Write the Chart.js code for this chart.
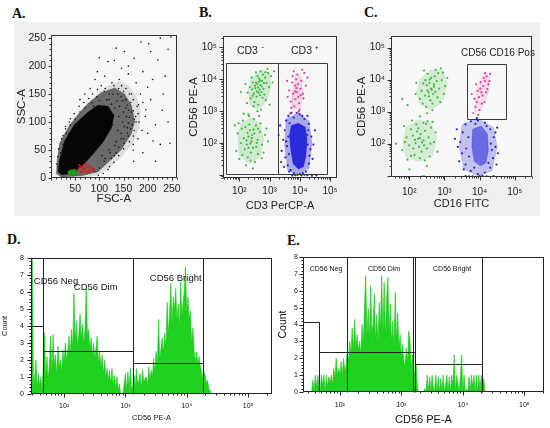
<!DOCTYPE html>
<html><head><meta charset="utf-8">
<script src="https://cdn.jsdelivr.net/npm/chart.js@4.4.1/dist/chart.umd.min.js"></script>
<style>
html,body{margin:0;padding:0;background:#fff;}
body{width:550px;height:428px;position:relative;overflow:hidden;}
.band{position:absolute;left:14px;top:22px;width:526px;height:194px;background:#efefef;}
canvas{position:absolute;}
.lab{position:absolute;font-family:'Liberation Serif','Times New Roman',serif;font-weight:bold;font-size:14px;line-height:14px;color:#111;}
</style></head><body>
<div class="band"></div>
<div class="lab" style="left:12px;top:7px">A.</div>
<div class="lab" style="left:199px;top:6px">B.</div>
<div class="lab" style="left:364px;top:6px">C.</div>
<div class="lab" style="left:7px;top:233px">D.</div>
<div class="lab" style="left:287px;top:234px">E.</div>
<canvas id="cA" width="172" height="188" style="left:14px;top:24px"></canvas>
<canvas id="cB" width="172" height="188" style="left:188px;top:24px"></canvas>
<canvas id="cC" width="186" height="188" style="left:354px;top:24px"></canvas>
<canvas id="cD" width="280" height="198" style="left:0px;top:230px"></canvas>
<canvas id="cE" width="272" height="198" style="left:278px;top:230px"></canvas>
<script>
// ---------------- Panel A : FSC-A vs SSC-A (linear, 0-260) ----------------
const aOuter = [[10,5],[12,35],[20,65],[40,98],[62,122],[90,145],[115,163],[140,172],[160,165],[175,148],[185,120],[182,90],[168,62],[145,38],[120,18],[95,5],[60,1],[22,0]];
const aMid = [[11.5,8],[13.5,33.5],[18,62],[35.6,90],[56,113],[77,133],[104,152.5],[132,161],[152,150],[166,130],[173,101.5],[166,79],[145,50.5],[118,28],[97,11],[63,4],[22,2]];
const aCore = [[15,11],[18,33],[28.6,67],[49,96],[77,118],[97,130],[118,128],[130,112],[125,90],[108,65],[84,40],[63,20],[42,8],[22,6]];
const aEvents = [[100,215],[118,208],[135,232],[152,226],[160,186],[172,214],[186,243],[202,240],[226,250],[248,252],[242,230],[190,190],[176,170],[210,176],[232,150],[206,140],[230,121],[242,100],[216,95],[200,80],[226,60],[190,45],[216,30],[170,60],[182,100],[196,122],[166,150],[141,176],[126,170],[111,182],[91,176],[81,160],[160,200],[146,196],[200,162],[181,131],[161,121],[151,62],[131,40],[121,20],[171,30],[211,66],[246,62],[236,182],[221,211],[206,226],[131,210],[96,190],[70,150],[60,140],[40,106],[30,92],[25,76],[140,160],[150,155],[155,140],[165,135],[170,120],[175,110],[168,95],[172,85],[160,75],[150,70],[140,55],[135,45],[125,35],[110,30],[100,18],[90,12],[120,150],[110,155],[95,145],[85,135],[70,125],[60,118],[50,105],[40,95],[32,80],[25,60],[20,45],[18,30],[15,20],[130,165],[145,145],[155,125],[162,108],[158,90],[145,80],[135,65],[120,50],[105,40],[115,140],[100,138],[88,128],[75,110],[60,100],[45,80],[35,60],[28,40],[22,25]];
const aEventsInner = [[120,140],[128,150],[136,138],[142,128],[150,118],[156,110],[148,100],[160,98],[165,88],[158,80],[152,92],[140,110],[132,125],[125,132],[138,150],[146,165],[155,160],[162,150],[170,140],[178,128],[180,115],[176,100],[170,75],[162,65],[150,52],[140,40],[130,28],[118,15],[108,8],[98,5],[112,160],[104,165],[96,158],[86,150],[78,142],[68,135],[58,128],[48,115],[38,100],[30,88],[22,70],[16,52],[14,38],[12,25],[148,138],[158,130],[166,118],[172,105],[128,95],[138,85],[145,70],[132,58],[122,45],[112,35],[185,150],[190,135],[195,110],[188,85],[180,70],[170,50]];
const aRed = [[55,14],[58,18],[60,12],[62,20],[65,15],[67,22],[70,17],[72,13],[74,19],[76,24],[78,15],[80,20],[82,12],[84,18],[86,14],[63,10],[69,11],[75,10],[88,16],[59,23],[71,25],[66,18],[79,11]];
const aGreen = [[38,9],[40,11],[42,8],[44,10],[46,12],[48,9],[50,11],[41,13],[45,7],[47,14],[39,7],[43,12],[49,13],[51,8],[37,11]];
const aXLabels = [50,100,150,200,250];
const aYLabels = [0,50,100,150,200,250];

// ---------------- Panel B : CD3 PerCP-A vs CD56 PE-A (log10 decades) ----------------
const bGreenHi = [[2.55,3.9],[2.62,3.75],[2.70,3.82],[2.58,3.62],[2.75,3.95],[2.48,3.55],[2.66,4.02],[2.80,3.70],[2.52,3.80],[2.68,3.50],[2.60,4.10],[2.85,4.05],[2.42,3.68],[2.73,3.60],[2.90,3.88],[2.57,3.45],[2.64,3.92],[2.78,4.15],[2.45,3.90],[2.95,4.20],[2.38,3.40],[2.50,3.28],[2.62,3.20],[2.83,3.52],[2.70,4.25],[2.98,3.75],[2.35,3.75],[2.28,3.58],[3.05,4.10],[2.55,4.22],[2.88,3.35],[2.47,3.15],[2.72,3.05],[2.40,4.05],[3.10,3.90],[2.25,3.25],[2.60,3.00],[2.93,4.32],[2.67,3.68],[2.59,3.85],[2.74,3.78],[2.63,3.58],[2.69,3.96],[2.53,3.72],[2.81,3.88],[2.20,3.85],[3.15,4.25],[2.77,3.42],[2.44,3.48],[2.86,4.22],[2.05,3.6],[2.3,2.9],[3.0,3.2]];
const bGreenLo = [[2.30,2.20],[2.40,2.05],[2.25,1.95],[2.50,2.30],[2.35,2.40],[2.15,2.15],[2.45,1.85],[2.60,2.10],[2.20,2.50],[2.55,2.55],[2.05,2.00],[2.38,1.70],[2.68,2.35],[2.12,2.70],[2.28,1.55],[2.75,1.95],[1.95,2.30],[2.48,2.75],[2.62,1.65],[2.18,1.80],[2.85,2.25],[1.90,1.75],[2.32,2.85],[2.52,1.40],[2.08,2.45],[2.70,2.62],[2.42,2.25],[2.27,2.32],[2.36,1.98],[2.58,2.00],[2.00,1.50],[2.80,1.70],[2.22,1.30],[2.65,2.85],[1.85,2.55],[2.90,2.45],[2.45,1.20],[2.14,2.92],[2.33,2.58],[2.47,2.42],[2.56,1.88],[2.24,2.08],[2.41,2.15],[2.30,1.85],[1.98,2.62],[2.74,1.52],[2.10,1.62],[2.95,2.05],[2.62,2.45],[2.37,1.45]];
const bPink = [[3.90,3.60],[3.85,3.80],[3.95,3.45],[4.02,3.70],[3.78,3.55],[3.88,4.00],[4.05,3.95],[3.70,3.30],[3.98,3.25],[3.82,3.15],[4.10,3.55],[3.92,4.15],[3.75,3.90],[4.15,4.20],[3.65,3.65],[3.86,3.38],[4.00,3.05],[3.80,4.25],[4.20,3.80],[3.94,3.85],[3.72,3.10],[4.08,4.30],[3.60,3.45],[3.97,3.00],[3.84,3.62],[3.89,3.72],[4.12,3.40],[3.76,4.10],[3.58,3.95],[4.25,4.05],[3.93,2.95],[3.68,2.92],[4.03,3.50]];
const bBlue = [[3.55,2.70],[3.62,2.85],[3.80,2.80],[4.00,2.90],[4.15,2.75],[4.30,2.60],[3.50,2.40],[3.45,2.10],[3.58,1.90],[3.52,1.55],[3.60,1.30],[3.65,1.10],[3.80,1.05],[4.00,1.02],[4.20,1.10],[4.30,1.35],[4.35,1.80],[4.38,2.20],[4.28,2.40],[3.40,1.75],[3.35,2.55],[4.45,1.95],[4.42,1.50],[3.48,1.25],[3.90,2.95],[3.72,2.95],[4.08,2.85],[3.66,2.62],[4.25,2.85],[3.30,2.25],[3.38,1.40],[4.50,2.40],[3.62,2.20],[3.64,1.65],[4.26,1.95],[4.25,2.25],[3.70,1.15],[4.10,1.05],[4.32,1.60],[3.55,2.05],[3.92,1.00],[4.05,0.98],[3.85,0.99],[4.15,1.00],[4.25,0.99],[3.75,0.98],[4.40,0.97],[4.55,0.98]];
const bGreenHiHalo = [[2.35,3.2],[2.6,3.05],[2.9,3.3],[3.05,3.8],[3.0,4.2],[2.75,4.3],[2.45,4.1],[2.3,3.7]];
const bGreenLoHalo = [[2.0,1.6],[2.35,1.35],[2.7,1.6],[2.8,2.1],[2.7,2.6],[2.4,2.8],[2.05,2.6],[1.95,2.1]];
const bPinkHalo = [[3.75,3.1],[4.0,3.05],[4.1,3.5],[4.05,4.1],[3.85,4.15],[3.75,3.6]];
const bBlueHalo = [[3.55,2.75],[3.95,2.95],[4.3,2.7],[4.4,2.0],[4.3,1.2],[3.95,1.0],[3.6,1.15],[3.5,1.9]];
const bBlueCore = [[3.72,2.55],[3.95,2.62],[4.18,2.50],[4.24,2.10],[4.20,1.60],[4.12,1.25],[3.95,1.18],[3.78,1.35],[3.70,1.80],[3.66,2.25]];
const bGates = [[1.55,1.015,3.27,4.51],[3.27,1.015,4.89,4.51]];

// ---------------- Panel C : CD16 FITC vs CD56 PE-A (log10 decades) ----------------
const cGreenHi = [[2.62,3.72],[2.70,3.85],[2.55,3.60],[2.78,3.95],[2.50,3.82],[2.68,3.55],[2.58,4.00],[2.85,3.72],[2.45,3.50],[2.72,4.10],[2.40,3.88],[2.92,3.98],[2.60,3.35],[2.80,3.45],[2.35,3.65],[2.96,4.22],[2.52,4.18],[2.88,3.30],[2.30,3.40],[2.66,3.25],[2.48,3.15],[3.02,3.80],[2.20,3.90],[2.75,4.30],[2.42,4.28],[3.08,4.05],[2.57,3.90],[2.64,3.68],[2.74,3.62],[2.52,3.66],[2.82,4.20],[2.38,3.25],[2.18,3.55],[2.98,3.55],[2.66,3.05],[2.46,3.98],[2.90,4.35],[2.56,3.48],[2.70,3.78],[2.62,4.06],[1.95,3.2],[2.3,2.85],[2.5,2.95],[1.80,3.4]];
const cGreenLo = [[2.25,2.15],[2.32,2.30],[2.18,2.02],[2.40,2.10],[2.10,2.25],[2.28,1.90],[2.45,2.40],[2.05,2.45],[2.35,1.75],[2.55,2.20],[2.15,1.65],[2.00,1.95],[2.50,1.85],[2.20,2.60],[2.62,2.50],[1.92,2.20],[2.40,2.65],[2.70,2.05],[1.85,2.55],[2.30,1.55],[2.58,1.60],[2.08,2.72],[1.80,1.80],[2.75,2.35],[2.48,2.62],[2.22,2.38],[2.36,2.04],[2.12,1.85],[2.42,1.95],[2.26,2.48],[2.60,2.00],[1.95,1.50],[2.80,1.75],[2.16,2.12],[2.30,2.18],[2.05,1.62],[2.52,2.70],[2.44,1.48],[1.88,2.05],[2.66,2.68],[1.62,2.0],[2.0,1.2],[2.5,1.3],[2.38,0.98],[2.42,0.98]];
const cPink = [[4.05,3.60],[4.10,3.80],[3.98,3.45],[4.15,3.95],[3.92,3.30],[4.20,4.10],[4.02,3.72],[3.88,3.15],[4.25,3.85],[4.08,3.50],[3.95,3.65],[4.18,3.60],[3.85,3.40],[4.30,4.18],[4.12,4.05],[3.82,2.95],[4.00,3.05],[4.22,3.70],[3.90,3.85],[4.28,3.95],[4.06,3.25],[3.78,3.55],[4.14,3.30],[3.96,2.90],[4.16,4.20],[4.03,3.92]];
const cBlue = [[3.60,2.60],[3.75,2.70],[3.95,2.72],[4.15,2.65],[4.30,2.45],[4.40,2.20],[4.45,1.90],[4.38,1.55],[4.30,1.25],[4.15,1.10],[3.95,1.05],[3.75,1.15],[3.60,1.35],[3.50,1.70],[3.45,2.05],[3.52,2.35],[3.38,1.90],[3.35,2.45],[4.50,2.50],[4.52,1.70],[3.68,2.20],[3.70,1.60],[4.32,2.00],[4.35,1.80],[3.88,2.62],[4.08,1.00],[4.25,1.40],[3.62,1.85],[4.45,2.35],[3.55,1.20],[3.85,1.25],[4.20,2.55],[3.92,2.80],[4.00,0.99],[3.70,0.98],[4.20,0.98],[4.40,0.99],[3.80,0.98],[3.60,0.99],[3.30,2.15],[3.42,1.45],[4.48,1.35]];
const cGreenHiHalo = [[2.3,3.25],[2.6,3.05],[2.95,3.3],[3.08,3.85],[2.95,4.3],[2.6,4.3],[2.3,4.0],[2.2,3.6]];
const cGreenLoHalo = [[1.9,1.6],[2.25,1.45],[2.65,1.6],[2.78,2.15],[2.62,2.65],[2.25,2.75],[1.9,2.5],[1.82,2.0]];
const cPinkHalo = [[3.85,3.0],[4.05,3.05],[4.25,3.6],[4.3,4.15],[4.12,4.2],[3.9,3.7]];
const cBlueHalo = [[3.5,2.6],[3.95,2.8],[4.4,2.5],[4.5,1.9],[4.35,1.15],[3.95,1.0],[3.55,1.2],[3.42,1.9]];
const cBlueCore = [[3.80,2.45],[4.05,2.55],[4.22,2.30],[4.25,1.80],[4.18,1.40],[4.02,1.30],[3.85,1.45],[3.78,1.90]];
const cGates = [[3.64,2.78,4.75,4.48]];

// ---------------- Panels D & E : CD56 PE-A histograms (log10 decades, bin 0.02) ----------------
const binStep = 0.02;
const dStart = 1.46;
const dCounts = [
 8.6,8.6,0.4,1.0,2.0,0.3,1.2,0.5,1.0,0.2,
 1.5,3.6,1.0,2.2,0.8,1.8,3.4,1.2,3.5,1.6,
 2.3,1.0,2.8,1.5,2.0,1.2,2.6,1.8,3.0,2.0,
 2.5,3.4,2.2,3.8,2.6,5.9,3.0,4.3,2.8,3.6,
 4.7,3.2,4.1,2.9,3.8,6.2,3.4,3.8,2.6,3.3,
 2.2,3.0,2.0,2.7,3.4,1.8,2.5,1.5,2.3,1.2,
 2.0,1.0,1.5,0.8,1.4,0.6,1.5,0.5,1.1,0.3,
 1.0,0.2,0.6,0,0,0,0.6,1.2,0.2,1.3,
 0.3,1.5,0.2,0.5,1.1,0.4,1.5,0.6,0.8,1.2,
 0.3,1.4,0.7,0.9,1.0,0.5,1.6,0.8,1.4,1.0,
 2.1,1.2,2.5,1.6,4.4,2.0,2.7,3.3,2.4,3.6,
 2.8,5.4,3.5,4.7,6.5,4.0,5.7,4.9,6.2,4.2,
 5.3,3.8,6.6,4.5,5.4,6.1,7.5,4.8,5.7,4.3,
 4.9,2.9,3.9,2.5,1.9,2.5,1.7,2.2,1.7,1.3,
 0.9,1.3,1.1,0.6,0.8,0.3,0.2,0,0,0];
const eStart = 1.40;
const eCounts = [
 0,0,0,0,0,0,0,0,0.7,0,
 1.0,0.2,1.0,0.3,0,1.0,0.4,1.0,0,1.0,
 0.3,0.9,0.5,1.0,0.4,1.4,0.8,2.0,1.0,1.4,
 1.0,1.8,1.0,2.0,1.2,1.6,2.4,1.8,3.0,2.2,
 3.8,2.5,4.3,2.6,3.4,2.4,3.0,2.2,4.0,2.8,
 5.0,6.9,3.2,5.0,2.9,6.3,3.5,4.0,5.8,3.0,
 4.6,2.8,5.3,3.6,6.9,3.4,6.5,3.2,5.5,6.8,
 3.4,5.2,2.9,4.2,2.6,5.9,3.0,4.7,2.6,3.4,
 2.0,2.8,1.8,1.6,2.6,1.7,3.6,3.1,1.4,2.2,
 1.6,0.8,1.6,0.3,0,0,0,0,0,0.2,
 0,1.0,0,0.9,0,1.0,0.3,0,1.0,0,
 0.9,0,0.8,0,1.0,0,0.4,1.0,0,0.9,
 0,1.0,0.3,2.2,0,1.0,0.5,0,1.0,2.2,
 0,1.0,0,0.2,0,0.9,0,1.0,0.3,1.0,
 0,1.0,0,1.0,0.2,1.0,0,0.8,0,0];
const dGateSegs = [[1.653,0,1.653,8],[3.12,0,3.12,8],[4.26,0,4.26,8],[1.46,4.0,1.653,4.0],[1.653,2.55,3.12,2.55],[3.12,1.85,4.26,1.85]];
const eGateSegs = [[1.66,0,1.66,4.12],[1.40,4.12,1.66,4.12],[2.11,0,2.11,8],[1.66,2.4,3.22,2.4],[3.19,0,3.19,8],[3.22,0,3.22,8],[3.22,1.65,4.31,1.65],[4.31,0,4.31,8]];
const decadeLabels = [2,3,4,5];
const countLabels = [0,1,2,3,4,5,6,7,8];

// ---------------- helpers ----------------
const FONT = "'Liberation Sans Narrow','Liberation Sans',Arial,sans-serif";
const SUP = {1:'\u00b9',2:'\u00b2',3:'\u00b3',4:'\u2074',5:'\u2075'};
const pts = arr => arr.map(([x, y]) => ({x, y}));
const closed = arr => pts(arr.concat([arr[0]]));
const hist = (start, counts) => counts.map((c, i) => ({x: Math.round((start + i * binStep) * 1000) / 1000, y: c}));
function logTicks(min, max) {
  const major = [], minor = [];
  for (let n = 0; n <= 6; n++) for (let k = 1; k <= 9; k++) {
    const v = n + Math.log10(k);
    if (v >= min - 1e-9 && v <= max + 1e-9) (k === 1 ? major : minor).push(v);
  }
  return {major, minor};
}
function linTicks(min, max, minorStep, majorStep) {
  const major = [], minor = [];
  for (let v = min; v <= max + 1e-9; v += minorStep) {
    const r = Math.round(v * 100) / 100;
    (Math.abs(r / majorStep - Math.round(r / majorStep)) < 1e-6 ? major : minor).push(r);
  }
  return {major, minor};
}
function poly(arr, color, order) {
  return {type: 'line', data: closed(arr), fill: 'shape', backgroundColor: color, borderColor: color, borderWidth: 0.5, pointRadius: 0, tension: 0, order};
}
function dots(arr, color, r, order) {
  return {type: 'scatter', data: pts(arr), backgroundColor: color, borderWidth: 0, pointRadius: r, pointHoverRadius: r, order};
}
function histDs(start, counts) {
  return {type: 'line', data: hist(start, counts), fill: 'origin', backgroundColor: '#1fd21f', borderColor: '#18c418', borderWidth: 0.6, pointRadius: 0, tension: 0};
}

const decor = {
  id: 'decor',
  beforeDatasetsDraw(chart, args, o) {
    if (!o.plotBg) return;
    const {ctx, chartArea: a} = chart;
    ctx.save(); ctx.fillStyle = o.plotBg;
    ctx.fillRect(a.left, a.top, a.right - a.left, a.bottom - a.top);
    ctx.restore();
  },
  afterDatasetsDraw(chart, args, o) {
    const {ctx, chartArea: a} = chart;
    const sx = chart.scales.x, sy = chart.scales.y;
    const px = v => Math.round(sx.getPixelForValue(v)) + 0.5;
    const py = v => Math.round(sy.getPixelForValue(v)) + 0.5;
    ctx.save();
    ctx.lineWidth = 1;
    ctx.strokeStyle = o.gateColor || '#333';
    ctx.beginPath();
    (o.rects || []).forEach(([x1, y1, x2, y2]) => ctx.rect(px(x1), py(y2), px(x2) - px(x1), py(y1) - py(y2)));
    (o.segs || []).forEach(([x1, y1, x2, y2]) => { ctx.moveTo(px(x1), py(y1)); ctx.lineTo(px(x2), py(y2)); });
    ctx.stroke();
    ctx.fillStyle = o.labelColor || '#222';
    ctx.textBaseline = 'middle'; ctx.textAlign = 'left';
    (o.labels || []).forEach(l => { ctx.font = l.size + 'px ' + FONT; ctx.fillText(l.text, sx.getPixelForValue(l.x), sy.getPixelForValue(l.y)); });
    ctx.strokeStyle = o.frameColor || '#333';
    const L = Math.round(a.left) + 0.5, R = Math.round(a.right) - 0.5, T = Math.round(a.top) + 0.5, B = Math.round(a.bottom) - 0.5;
    ctx.strokeRect(L, T, R - L, B - T);
    ctx.beginPath();
    const xt = o.xTicks, yt = o.yTicks, maj = o.majLen || 4, mnr = o.minLen || 2;
    xt.major.forEach(v => { const p = px(v); ctx.moveTo(p, B); ctx.lineTo(p, B + maj); });
    xt.minor.forEach(v => { const p = px(v); ctx.moveTo(p, B); ctx.lineTo(p, B + mnr); });
    yt.major.forEach(v => { const p = py(v); ctx.moveTo(L, p); ctx.lineTo(L - maj, p); });
    yt.minor.forEach(v => { const p = py(v); ctx.moveTo(L, p); ctx.lineTo(L - mnr, p); });
    ctx.stroke();
    ctx.restore();
  }
};

function options(p) {
  return {
    responsive: false, animation: false, events: [], devicePixelRatio: 1,
    layout: {padding: p.pad},
    plugins: {legend: {display: false}, tooltip: {enabled: false}, decor: p.decor},
    scales: {
      x: {type: 'linear', bounds: 'data', min: p.x[0], max: p.x[1],
        grid: {display: false, drawTicks: false}, border: {display: false},
        afterBuildTicks: s => { s.ticks = p.xLab.map(v => ({value: v})); },
        afterFit: s => { s.height = p.xH; },
        ticks: {autoSkip: false, maxRotation: 0, padding: p.xPad, color: p.col, font: {family: FONT, size: p.tick}, callback: p.xFmt},
        title: {display: true, text: p.xTitle, color: p.col, font: {family: FONT, size: p.xTitleSize, lineHeight: 1}, padding: {top: 0, bottom: p.xtPad}}},
      y: {type: 'linear', bounds: 'data', min: p.y[0], max: p.y[1],
        grid: {display: false, drawTicks: false}, border: {display: false},
        afterBuildTicks: s => { s.ticks = p.yLab.map(v => ({value: v})); },
        afterFit: s => { s.width = p.yW; },
        ticks: {autoSkip: false, padding: p.yPad, color: p.col, font: {family: FONT, size: p.tick}, callback: p.yFmt},
        title: {display: true, text: p.yTitle, color: p.col, font: {family: FONT, size: p.yTitleSize, lineHeight: 1}, padding: {top: p.ytPad, bottom: 0}}}
    }
  };
}
const decFmt = v => '10' + SUP[v];
const numFmt = v => String(v);

// ---- A ----
new Chart(document.getElementById('cA'), {
  type: 'scatter',
  plugins: [decor],
  data: {datasets: [
    poly(aOuter, 'rgba(0,0,0,0.1)', 12),
    poly(aMid, 'rgba(0,0,0,0.52)', 11),
    poly(aCore, 'rgba(0,0,0,0.94)', 10),
    dots(aEvents, '#111', 0.8, 5),
    dots(aEventsInner, '#111', 0.8, 5),
    dots(aRed, '#d81818', 1.1, 2),
    dots(aGreen, '#16a016', 1.3, 1)
  ]},
  options: options({pad: {left: 0, right: 9, top: 4, bottom: 0}, x: [0, 260], y: [0, 255],
    xLab: aXLabels, yLab: aYLabels, xH: 34, yW: 37, xPad: 5, yPad: 5, col: '#222', tick: 10.5,
    xFmt: numFmt, yFmt: numFmt, xTitle: 'FSC-A', yTitle: 'SSC-A', xTitleSize: 11.5, yTitleSize: 11.5, xtPad: 7, ytPad: 2,
    decor: {plotBg: '#f6f6f6', frameColor: '#333', xTicks: linTicks(0, 260, 10, 50), yTicks: linTicks(0, 250, 10, 50), majLen: 3, minLen: 2}})
});

// ---- B ----
new Chart(document.getElementById('cB'), {
  type: 'scatter',
  plugins: [decor],
  data: {datasets: [
    poly(bGreenHiHalo, 'rgba(70,185,70,0.22)', 14),
    poly(bGreenLoHalo, 'rgba(70,185,70,0.22)', 14),
    poly(bPinkHalo, 'rgba(230,70,160,0.18)', 14),
    poly(bBlueHalo, 'rgba(30,30,210,0.35)', 13),
    poly(bBlueCore, 'rgba(20,20,215,0.85)', 12),
    dots(bGreenHi, '#3cba3c', 1.1, 3),
    dots(bGreenLo, '#3cba3c', 1.1, 3),
    dots(bPink, '#e8409c', 1.1, 3),
    dots(bBlue, '#2222d4', 1.1, 3)
  ]},
  options: options({pad: {left: 0, right: 23, top: 4, bottom: 0}, x: [1.46, 5.23], y: [0.9, 5.36],
    xLab: decadeLabels, yLab: decadeLabels, xH: 34, yW: 35, xPad: 7, yPad: 6, col: '#222', tick: 10,
    xFmt: decFmt, yFmt: decFmt, xTitle: 'CD3 PerCP-A', yTitle: 'CD56 PE-A', xTitleSize: 11, yTitleSize: 11.5, xtPad: 1, ytPad: 0,
    decor: {plotBg: '#f6f6f6', frameColor: '#333', gateColor: '#3a3a3a', rects: bGates,
      labels: [{text: 'CD3 \u207b', x: 1.92, y: 4.88, size: 10.5}, {text: 'CD3 \u207a', x: 3.71, y: 4.88, size: 10.5}],
      xTicks: logTicks(1.46, 5.23), yTicks: logTicks(0.9, 5.36), majLen: 4, minLen: 2}})
});

// ---- C ----
new Chart(document.getElementById('cC'), {
  type: 'scatter',
  plugins: [decor],
  data: {datasets: [
    poly(cGreenHiHalo, 'rgba(70,185,70,0.2)', 14),
    poly(cGreenLoHalo, 'rgba(70,185,70,0.2)', 14),
    poly(cPinkHalo, 'rgba(230,70,160,0.15)', 14),
    poly(cBlueHalo, 'rgba(30,30,210,0.25)', 13),
    poly(cBlueCore, 'rgba(20,20,215,0.5)', 12),
    dots(cGreenHi, '#3cba3c', 1.1, 3),
    dots(cGreenLo, '#3cba3c', 1.1, 3),
    dots(cPink, '#e8409c', 1.1, 3),
    dots(cBlue, '#2222d4', 1.1, 3)
  ]},
  options: options({pad: {left: 0, right: 8, top: 3, bottom: 0}, x: [1.48, 5.49], y: [0.96, 5.36],
    xLab: decadeLabels, yLab: decadeLabels, xH: 35, yW: 37, xPad: 9, yPad: 6, col: '#222', tick: 10,
    xFmt: decFmt, yFmt: decFmt, xTitle: 'CD16 FITC', yTitle: 'CD56 PE-A', xTitleSize: 11, yTitleSize: 11.5, xtPad: 3, ytPad: 2,
    decor: {plotBg: '#f8f8f8', frameColor: '#333', gateColor: '#3a3a3a', rects: cGates,
      labels: [{text: 'CD56 CD16 Pos', x: 3.47, y: 4.83, size: 10}],
      xTicks: logTicks(1.48, 5.49), yTicks: logTicks(0.96, 5.36), majLen: 4, minLen: 2}})
});

// ---- D ----
new Chart(document.getElementById('cD'), {
  type: 'scatter',
  plugins: [decor],
  data: {datasets: [histDs(dStart, dCounts)]},
  options: options({pad: {left: 0, right: 8, top: 28, bottom: 0}, x: [1.46, 5.39], y: [0, 8],
    xLab: decadeLabels, yLab: countLabels, xH: 34, yW: 31, xPad: 8, yPad: 7, col: '#111', tick: 7,
    xFmt: decFmt, yFmt: numFmt, xTitle: 'CD56 PE-A', yTitle: 'Count', xTitleSize: 7.5, yTitleSize: 7.5, xtPad: 6, ytPad: 1,
    decor: {frameColor: '#222', gateColor: '#222', segs: dGateSegs,
      labels: [{text: 'CD56 Neg', x: 1.506, y: 6.63, size: 9.5}, {text: 'CD56 Dim', x: 2.158, y: 6.27, size: 9.5}, {text: 'CD56 Bright', x: 3.398, y: 6.80, size: 9.5}],
      labelColor: '#111', xTicks: logTicks(1.46, 5.39), yTicks: linTicks(0, 8, 0.2, 1), majLen: 4, minLen: 2}})
});

// ---- E ----
new Chart(document.getElementById('cE'), {
  type: 'scatter',
  plugins: [decor],
  data: {datasets: [histDs(eStart, eCounts)]},
  options: options({pad: {left: 0, right: 6, top: 27, bottom: 0}, x: [1.40, 5.32], y: [0, 8],
    xLab: decadeLabels, yLab: countLabels, xH: 36, yW: 25, xPad: 9, yPad: 5, col: '#111', tick: 7,
    xFmt: decFmt, yFmt: numFmt, xTitle: 'CD56 PE-A', yTitle: 'Count', xTitleSize: 11, yTitleSize: 10.5, xtPad: 3, ytPad: 0,
    decor: {frameColor: '#222', gateColor: '#222', segs: eGateSegs,
      labels: [{text: 'CD56 Neg', x: 1.51, y: 7.29, size: 7}, {text: 'CD56 Dim', x: 2.456, y: 7.29, size: 7}, {text: 'CD56 Bright', x: 3.515, y: 7.29, size: 7}],
      labelColor: '#111', xTicks: logTicks(1.40, 5.32), yTicks: linTicks(0, 8, 0.2, 1), majLen: 4, minLen: 2}})
});
</script>
</body></html>
